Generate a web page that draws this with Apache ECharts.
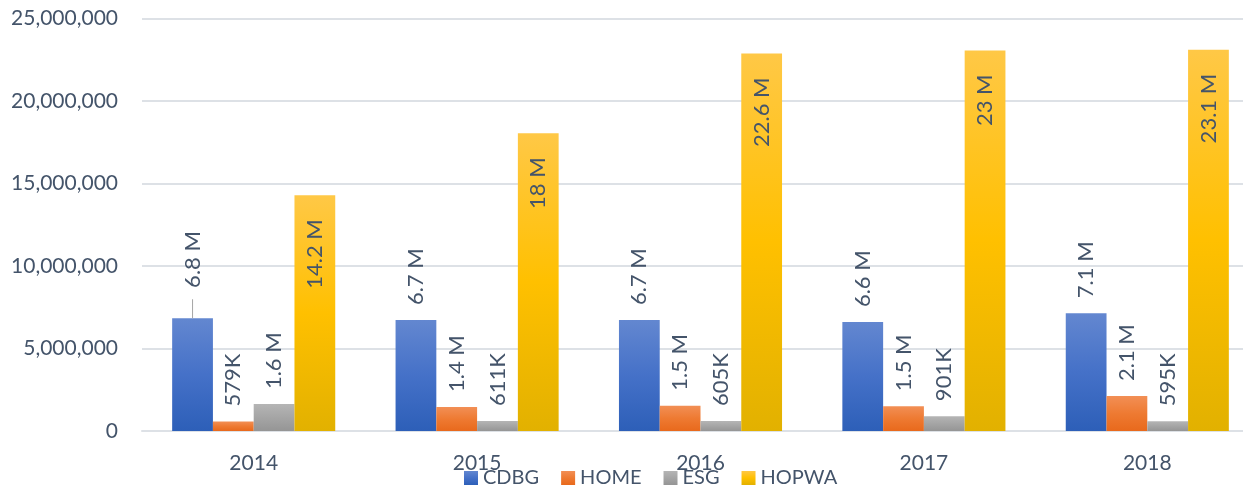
<!DOCTYPE html>
<html>
<head>
<meta charset="utf-8">
<script src="https://cdn.jsdelivr.net/npm/echarts@6/dist/echarts.min.js"></script>
<style>
html,body{margin:0;padding:0;background:#fff;}
#chart{width:1243px;height:486px;}
</style>
</head>
<body>
<div id="chart"></div>
<script>
const categories = ['2014', '2015', '2016', '2017', '2018'];
const seriesNames = ['CDBG', 'HOME', 'ESG', 'HOPWA'];
const cdbg = [6840000, 6720000, 6720000, 6600000, 7140000];
const home = [579000, 1450000, 1530000, 1500000, 2120000];
const esg = [1630000, 611000, 605000, 901000, 595000];
const hopwa = [14290000, 18040000, 22880000, 23060000, 23100000];
const cdbgLabels = ['6.8 M', '6.7 M', '6.7 M', '6.6 M', '7.1 M'];
const homeLabels = ['579K', '1.4 M', '1.5 M', '1.5 M', '2.1 M'];
const esgLabels = ['1.6 M', '611K', '605K', '901K', '595K'];
const hopwaLabels = ['14.2 M', '18 M', '22.6 M', '23 M', '23.1 M'];
const yTicks = [0, 5000000, 10000000, 15000000, 20000000, 25000000];

const FONT = 'Lato';
const TXT = '#44546A';

function grad(top, mid, bottom) {
  return new echarts.graphic.LinearGradient(0, 0, 0, 1, [
    { offset: 0, color: top },
    { offset: 0.5, color: mid },
    { offset: 1, color: bottom }
  ]);
}
const fills = [
  grad('#6387D0', '#4571C8', '#2D5FB8'),
  grad('#F28F55', '#EE7A32', '#E8691C'),
  grad('#B5B5B5', '#A5A5A5', '#959595'),
  grad('#FFC846', '#FFC000', '#E2B100')
];

function outsideLabel(labels) {
  return {
    show: true,
    position: 'top',
    distance: 15,
    rotate: 90,
    align: 'left',
    verticalAlign: 'middle',
    color: TXT,
    fontFamily: FONT,
    fontSize: 22,
    formatter: p => labels[p.dataIndex]
  };
}

function makeData(values, special) {
  return values.map((v, i) => {
    if (special && special[i]) return Object.assign({ value: v }, special[i]);
    return v;
  });
}

const cdbgSpecial = {
  0: {
    label: {
      distance: 0,
      formatter: '{ln|}  ' + cdbgLabels[0],
      rich: {
        ln: { width: 19, height: 1, backgroundColor: '#A6A6A6' }
      }
    }
  }
};

const chart = echarts.init(document.getElementById('chart'), null, { renderer: 'canvas' });
chart.setOption({
  animation: false,
  backgroundColor: '#ffffff',
  textStyle: { fontFamily: FONT },
  grid: { left: 142, width: 1117, top: 18.5, bottom: 55, containLabel: false, outerBoundsMode: 'none' },
  legend: {
    data: seriesNames,
    left: 459,
    top: 463,
    itemWidth: 14,
    itemHeight: 14,
    itemGap: 22,
    icon: 'rect',
    textStyle: { color: TXT, fontFamily: FONT, fontSize: 20 }
  },
  xAxis: {
    type: 'category',
    data: categories,
    axisLine: { show: true, lineStyle: { color: '#DDE1E6', width: 2 } },
    axisTick: { show: false },
    axisLabel: { color: TXT, fontFamily: FONT, fontSize: 21, margin: 22 }
  },
  yAxis: {
    type: 'value',
    min: yTicks[0],
    max: yTicks[yTicks.length - 1],
    interval: yTicks[1] - yTicks[0],
    axisLine: { show: false },
    axisTick: { show: false },
    splitLine: { lineStyle: { color: '#DDE1E6', width: 2 } },
    axisLabel: {
      color: TXT, fontFamily: FONT, fontSize: 21, margin: 24,
      formatter: v => v.toLocaleString('en-US')
    }
  },
  series: [
    {
      name: seriesNames[0], type: 'bar', barGap: '0%', barCategoryGap: '27%',
      itemStyle: { color: fills[0] },
      label: outsideLabel(cdbgLabels),
      data: makeData(cdbg, cdbgSpecial)
    },
    {
      name: seriesNames[1], type: 'bar', barGap: '0%', barCategoryGap: '27%',
      itemStyle: { color: fills[1] },
      label: outsideLabel(homeLabels),
      data: home
    },
    {
      name: seriesNames[2], type: 'bar', barGap: '0%', barCategoryGap: '27%',
      itemStyle: { color: fills[2] },
      label: outsideLabel(esgLabels),
      data: esg
    },
    {
      name: seriesNames[3], type: 'bar', barGap: '0%', barCategoryGap: '27%',
      itemStyle: { color: fills[3] },
      label: {
        show: true,
        position: 'insideTop',
        distance: 24,
        rotate: 90,
        align: 'right',
        verticalAlign: 'middle',
        color: TXT,
        fontFamily: FONT,
        fontSize: 22,
        formatter: p => hopwaLabels[p.dataIndex]
      },
      data: hopwa
    }
  ]
});
</script>
</body>
</html>
